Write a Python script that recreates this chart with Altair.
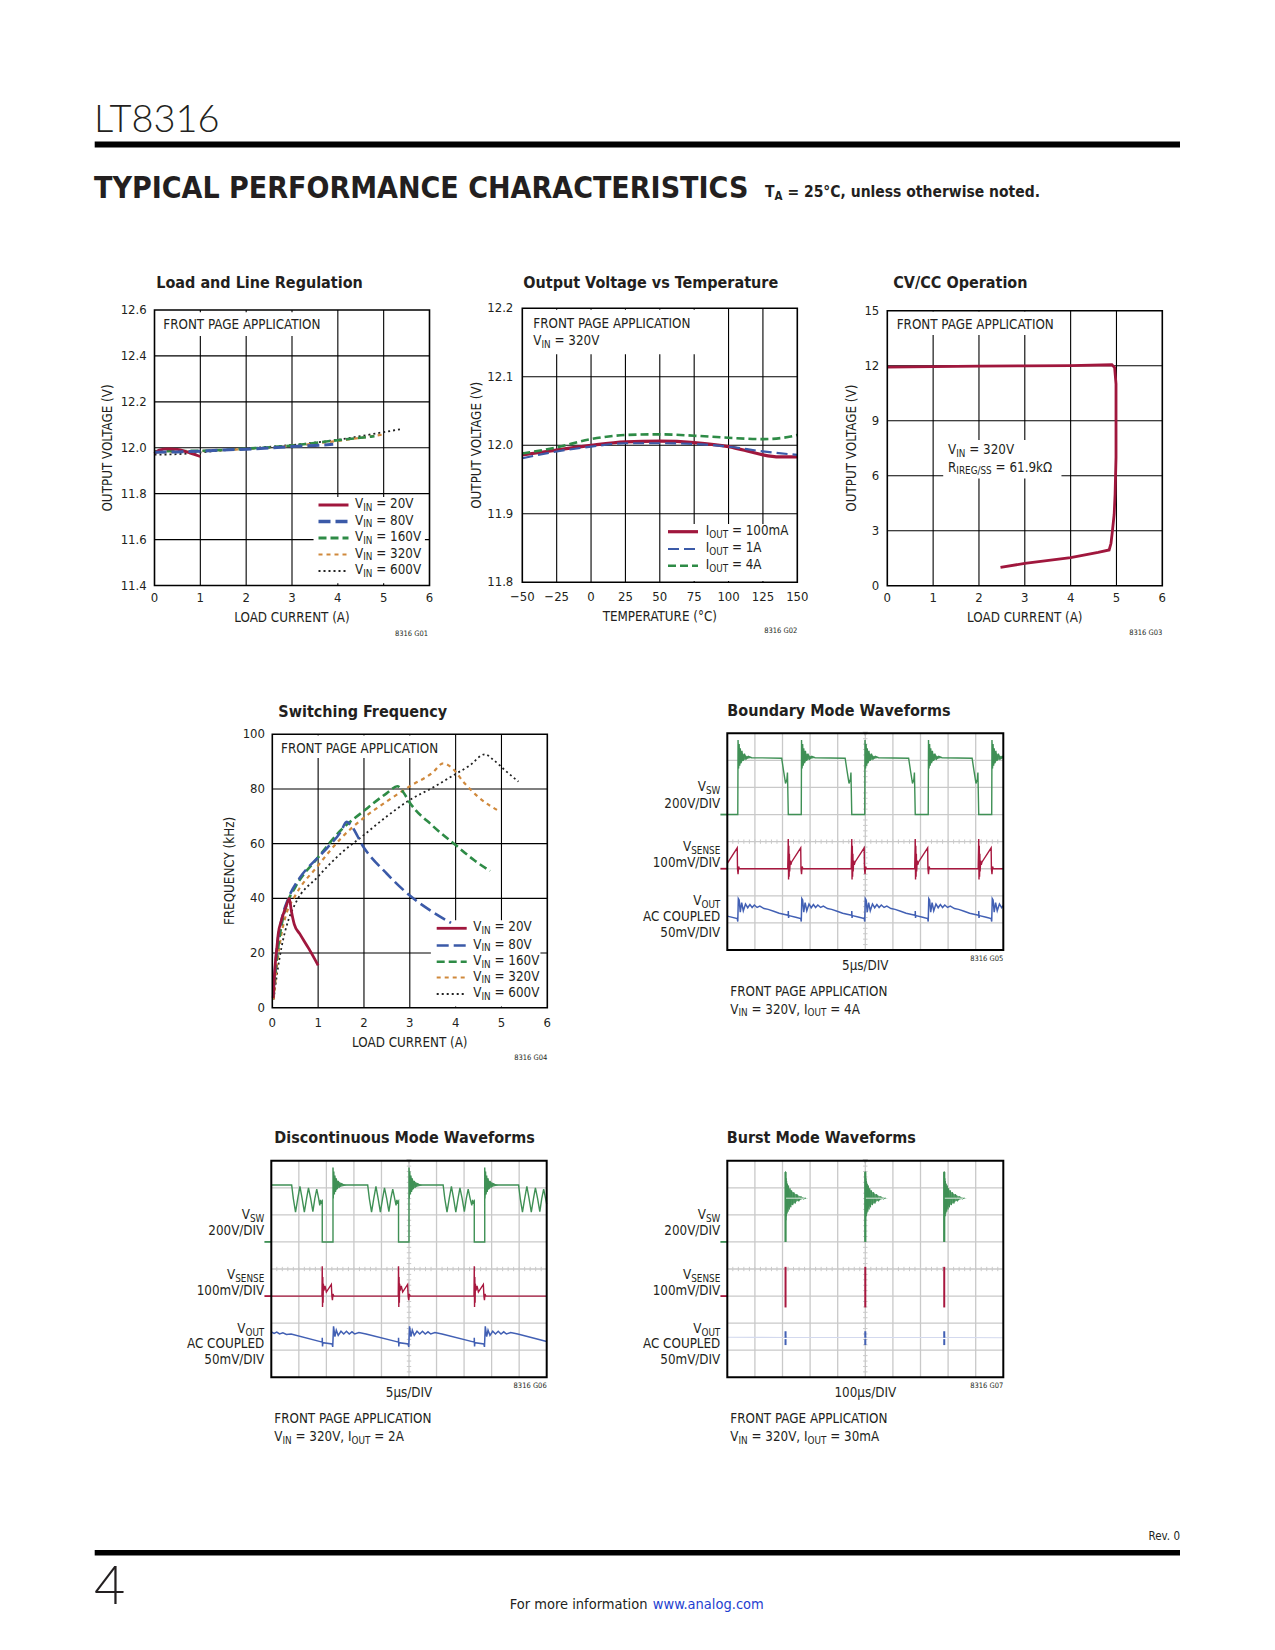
import altair as alt
import pandas as pd

OFF = 8.0
W, H = 1259, 1634
FONT = "DejaVu Sans Condensed, DejaVu Sans, sans-serif"
LIGHT = "Lato, DejaVu Sans Condensed, sans-serif"
INK = "#231f20"
RED = "#a0173d"; BLUE = "#3b5aa8"; GREEN = "#2e8b46"; ORANGE = "#d0893c"; BLACK = "#222222"
SG = "#3f9055"; SR = "#a8183f"; SB = "#4260b4"; GRID = "#c9c9c9"
FS = 13.3

# ---------------- data: Load and Line Regulation ----------------
LR_20_X = [0, 0.1, 0.3, 0.5, 0.7, 0.85, 1.0]
LR_20_Y = [11.975, 11.99, 11.995, 11.993, 11.982, 11.972, 11.962]
LR_80_X = [0, 0.5, 1, 1.5, 2, 2.5, 3, 3.5, 3.9]
LR_80_Y = [11.98, 11.982, 11.985, 11.99, 11.994, 11.999, 12.005, 12.01, 12.015]
LR_160_X = [0, 1, 2, 3, 4, 4.8]
LR_160_Y = [11.985, 11.987, 11.996, 12.01, 12.033, 12.05]
LR_320_X = [0, 1, 2, 3, 4, 5]
LR_320_Y = [11.98, 11.985, 11.995, 12.008, 12.03, 12.058]
LR_600_X = [0, 0.5, 1, 2, 3, 4, 5, 5.4]
LR_600_Y = [11.97, 11.972, 11.98, 11.997, 12.012, 12.035, 12.068, 12.082]

# ---------------- data: Output Voltage vs Temperature ----------------
OT_100M_T = [-50, -25, 0, 25, 50, 75, 100, 115, 125, 137, 150]
OT_100M_V = [11.986, 11.993, 12.0, 12.005, 12.006, 12.004, 11.998, 11.991, 11.986, 11.983, 11.983]
OT_1A_T = [-50, -25, 0, 25, 50, 75, 100, 125, 150]
OT_1A_V = [11.981, 11.991, 11.998, 12.003, 12.003, 12.002, 11.998, 11.991, 11.986]
OT_4A_T = [-50, -25, 0, 25, 50, 75, 100, 125, 140, 150]
OT_4A_V = [11.988, 11.997, 12.009, 12.015, 12.016, 12.014, 12.011, 12.009, 12.011, 12.015]

# ---------------- data: CV/CC ----------------
CV_X = [0, 1, 2, 3, 4, 4.9, 4.96, 4.99, 4.99, 4.97, 4.95, 4.91, 4.88, 4.84, 4.6, 4.0, 3.0, 2.47]
CV_Y = [11.92, 11.95, 11.98, 11.99, 12.0, 12.05, 11.9, 11.0, 7.0, 5.0, 3.9, 2.95, 2.3, 1.95, 1.82, 1.53, 1.22, 1.0]

# ---------------- data: Switching Frequency ----------------
SF_20_X = [0.02, 0.06, 0.1, 0.13, 0.2, 0.3, 0.37, 0.42, 0.48, 0.6, 0.8, 1.0]
SF_20_Y = [3.5, 15, 22, 27, 32, 37, 40, 35, 30.5, 27, 21.5, 15.5]
SF_80_X = [0.02, 0.1, 0.2, 0.35, 0.6, 1.0, 1.2, 1.5, 1.62, 1.7, 2.0, 2.5, 3.0, 3.5, 3.9]
SF_80_Y = [5, 22, 32, 40, 47.5, 55, 58.5, 64.5, 68, 67, 58.5, 49, 41, 35, 31]
SF_160_X = [0.02, 0.1, 0.2, 0.3, 0.5, 1.0, 1.5, 2.0, 2.5, 2.73, 2.85, 3.0, 3.5, 4.0, 4.4, 4.75]
SF_160_Y = [4, 18, 30, 37, 44, 55, 65, 72, 78.5, 81, 79, 75, 66.5, 59.5, 54, 50]
SF_320_X = [0.03, 0.1, 0.2, 0.3, 0.5, 1.0, 1.5, 2.0, 2.5, 3.0, 3.5, 3.73, 3.9, 4.2, 4.5, 4.97]
SF_320_Y = [3, 15, 27, 34, 41, 52, 62, 69.5, 75.5, 81, 86, 89.4, 88, 82, 77, 71.7]
SF_600_X = [0.03, 0.1, 0.2, 0.35, 0.5, 1.0, 1.5, 2.0, 2.5, 3.0, 3.5, 4.0, 4.3, 4.64, 4.8, 5.1, 5.37]
SF_600_Y = [3, 12, 22, 32, 38, 48, 56.5, 63.2, 70, 76, 80.5, 85.5, 88.5, 92.7, 91, 86.5, 82.7]

# ---------------- data: Boundary Mode (divisions) ----------------
BM_SW_X = [0.0,
           0.38, 0.39, 0.41, 0.43, 0.45, 0.47, 0.50, 0.53, 0.57, 0.62, 0.68, 0.76, 0.88, 1.97, 2.04, 2.11, 2.16, 2.18, 2.21,
           2.68, 2.69, 2.71, 2.73, 2.75, 2.77, 2.80, 2.83, 2.87, 2.92, 2.98, 3.06, 3.18, 4.27, 4.34, 4.41, 4.46, 4.48, 4.51,
           4.98, 4.99, 5.01, 5.03, 5.05, 5.07, 5.10, 5.13, 5.17, 5.22, 5.28, 5.36, 5.48, 6.57, 6.64, 6.71, 6.76, 6.78, 6.81,
           7.28, 7.29, 7.31, 7.33, 7.35, 7.37, 7.40, 7.43, 7.47, 7.52, 7.58, 7.66, 7.78, 8.87, 8.94, 9.01, 9.06, 9.08, 9.11,
           9.58, 9.59, 9.61, 9.63, 9.65, 9.67, 9.70, 9.73, 9.77, 9.82, 9.88, 9.96, 10.0]
BM_SW_Y = [5.0,
           5.0, 7.75, 6.7, 7.6, 6.8, 7.45, 6.9, 7.35, 6.98, 7.25, 7.05, 7.15, 7.1, 7.08, 6.6, 6.15, 6.3, 6.55, 5.0,
           5.0, 7.75, 6.7, 7.6, 6.8, 7.45, 6.9, 7.35, 6.98, 7.25, 7.05, 7.15, 7.1, 7.08, 6.6, 6.15, 6.3, 6.55, 5.0,
           5.0, 7.75, 6.7, 7.6, 6.8, 7.45, 6.9, 7.35, 6.98, 7.25, 7.05, 7.15, 7.1, 7.08, 6.6, 6.15, 6.3, 6.55, 5.0,
           5.0, 7.75, 6.7, 7.6, 6.8, 7.45, 6.9, 7.35, 6.98, 7.25, 7.05, 7.15, 7.1, 7.08, 6.6, 6.15, 6.3, 6.55, 5.0,
           5.0, 7.75, 6.7, 7.6, 6.8, 7.45, 6.9, 7.35, 6.98, 7.25, 7.05, 7.15, 7.1]
# ringing envelope after each rising edge
BM_RING_X = [0.385, 0.41, 0.46, 0.53, 0.63, 0.78, 0.88,
             2.685, 2.71, 2.76, 2.83, 2.93, 3.08, 3.18,
             4.985, 5.01, 5.06, 5.13, 5.23, 5.38, 5.48,
             7.285, 7.31, 7.36, 7.43, 7.53, 7.68, 7.78,
             9.585, 9.61, 9.66, 9.73, 9.83, 9.98, 10.0]
BM_RING_HI = [7.75, 7.5, 7.38, 7.28, 7.2, 7.13, 7.1,
              7.75, 7.5, 7.38, 7.28, 7.2, 7.13, 7.1,
              7.75, 7.5, 7.38, 7.28, 7.2, 7.13, 7.1,
              7.75, 7.5, 7.38, 7.28, 7.2, 7.13, 7.1,
              7.75, 7.5, 7.38, 7.28, 7.2, 7.13, 7.12]
BM_RING_LO = [6.65, 6.75, 6.85, 6.95, 7.02, 7.07, 7.1,
              6.65, 6.75, 6.85, 6.95, 7.02, 7.07, 7.1,
              6.65, 6.75, 6.85, 6.95, 7.02, 7.07, 7.1,
              6.65, 6.75, 6.85, 6.95, 7.02, 7.07, 7.1,
              6.65, 6.75, 6.85, 6.95, 7.02, 7.07, 7.08]
BM_RING_G = [0] * 7 + [1] * 7 + [2] * 7 + [3] * 7 + [4] * 7
BM_SNS_X = [0, 0.36, 0.37, 0.39, 0.41, 0.44,
            2.19, 2.21, 2.22, 2.23, 2.24, 2.25, 2.26, 2.28, 2.30, 2.33, 2.66, 2.67, 2.69, 2.71, 2.74,
            4.49, 4.51, 4.52, 4.53, 4.54, 4.55, 4.56, 4.58, 4.60, 4.63, 4.96, 4.97, 4.99, 5.01, 5.04,
            6.79, 6.81, 6.82, 6.83, 6.84, 6.85, 6.86, 6.88, 6.90, 6.93, 7.26, 7.27, 7.29, 7.31, 7.34,
            9.09, 9.11, 9.12, 9.13, 9.14, 9.15, 9.16, 9.18, 9.20, 9.23, 9.56, 9.57, 9.59, 9.61, 9.64,
            10.0]
BM_SNS_Y = [3.2, 3.77, 3.0, 2.8, 3.08, 3.0,
            3.0, 4.1, 2.6, 3.85, 2.7, 3.55, 2.9, 3.3, 3.15, 3.25, 3.77, 3.0, 2.8, 3.08, 3.0,
            3.0, 4.1, 2.6, 3.85, 2.7, 3.55, 2.9, 3.3, 3.15, 3.25, 3.77, 3.0, 2.8, 3.08, 3.0,
            3.0, 4.1, 2.6, 3.85, 2.7, 3.55, 2.9, 3.3, 3.15, 3.25, 3.77, 3.0, 2.8, 3.08, 3.0,
            3.0, 4.1, 2.6, 3.85, 2.7, 3.55, 2.9, 3.3, 3.15, 3.25, 3.77, 3.0, 2.8, 3.08, 3.0,
            3.0]
BM_OUT_X = [0, 0.36,
            0.38, 0.40, 0.43, 0.47, 0.52, 0.58, 0.66, 0.74, 0.82, 0.90, 0.98, 1.08, 1.18, 1.33, 1.48, 1.68, 1.88, 2.08, 2.21, 2.21, 2.22, 2.23, 2.48, 2.66,
            2.68, 2.70, 2.73, 2.77, 2.82, 2.88, 2.96, 3.04, 3.12, 3.20, 3.28, 3.38, 3.48, 3.63, 3.78, 3.98, 4.18, 4.38, 4.51, 4.51, 4.52, 4.53, 4.78, 4.96,
            4.98, 5.00, 5.03, 5.07, 5.12, 5.18, 5.26, 5.34, 5.42, 5.50, 5.58, 5.68, 5.78, 5.93, 6.08, 6.28, 6.48, 6.68, 6.81, 6.81, 6.82, 6.83, 7.08, 7.26,
            7.28, 7.30, 7.33, 7.37, 7.42, 7.48, 7.56, 7.64, 7.72, 7.80, 7.88, 7.98, 8.08, 8.23, 8.38, 8.58, 8.78, 8.98, 9.11, 9.11, 9.12, 9.13, 9.38, 9.56,
            9.58, 9.60, 9.63, 9.67, 9.72, 9.78, 9.86, 9.94, 10.0]
BM_OUT_Y = [1.25, 1.16,
            1.05, 1.9, 1.85, 1.4, 1.75, 1.45, 1.7, 1.56, 1.68, 1.57, 1.66, 1.57, 1.62, 1.53, 1.5, 1.43, 1.36, 1.31, 1.28, 1.44, 1.18, 1.27, 1.21, 1.16,
            1.05, 1.9, 1.85, 1.4, 1.75, 1.45, 1.7, 1.56, 1.68, 1.57, 1.66, 1.57, 1.62, 1.53, 1.5, 1.43, 1.36, 1.31, 1.28, 1.44, 1.18, 1.27, 1.21, 1.16,
            1.05, 1.9, 1.85, 1.4, 1.75, 1.45, 1.7, 1.56, 1.68, 1.57, 1.66, 1.57, 1.62, 1.53, 1.5, 1.43, 1.36, 1.31, 1.28, 1.44, 1.18, 1.27, 1.21, 1.16,
            1.05, 1.9, 1.85, 1.4, 1.75, 1.45, 1.7, 1.56, 1.68, 1.57, 1.66, 1.57, 1.62, 1.53, 1.5, 1.43, 1.36, 1.31, 1.28, 1.44, 1.18, 1.27, 1.21, 1.16,
            1.05, 1.9, 1.85, 1.4, 1.75, 1.45, 1.7, 1.56, 1.64]

# ---------------- data: Discontinuous Mode (divisions) ----------------
DM_SW_X = [0, 0.74,
           0.80, 0.88, 0.96, 1.04, 1.12, 1.20, 1.28, 1.35, 1.43, 1.51, 1.58, 1.65, 1.72, 1.76, 1.79, 1.82, 1.85, 1.85, 2.24,
           2.24, 2.25, 2.27, 2.29, 2.31, 2.33, 2.36, 2.39, 2.43, 2.48, 2.54, 2.62, 3.50,
           3.56, 3.64, 3.72, 3.80, 3.88, 3.96, 4.04, 4.11, 4.19, 4.27, 4.34, 4.41, 4.48, 4.53, 4.56, 4.59, 4.62, 4.62, 5.00,
           5.00, 5.01, 5.03, 5.05, 5.07, 5.09, 5.12, 5.15, 5.19, 5.24, 5.30, 5.38, 6.24,
           6.30, 6.38, 6.46, 6.54, 6.62, 6.70, 6.78, 6.85, 6.93, 7.01, 7.08, 7.15, 7.22, 7.28, 7.31, 7.34, 7.37, 7.37, 7.75,
           7.75, 7.76, 7.78, 7.80, 7.82, 7.84, 7.87, 7.90, 7.94, 7.99, 8.05, 8.13, 8.98,
           9.04, 9.12, 9.20, 9.28, 9.36, 9.44, 9.52, 9.59, 9.67, 9.75, 9.82, 9.89, 9.96, 10.0]
DM_SW_Y = [7.1, 7.1,
           6.6, 6.1, 6.6, 7.05, 6.6, 6.1, 6.6, 7.0, 6.6, 6.12, 6.6, 6.95, 6.6, 6.35, 6.55, 6.45, 6.5, 5.0, 5.0,
           7.75, 6.6, 7.6, 6.75, 7.45, 6.85, 7.35, 6.95, 7.25, 7.05, 7.15, 7.1, 7.1,
           6.6, 6.1, 6.6, 7.05, 6.6, 6.1, 6.6, 7.0, 6.6, 6.12, 6.6, 6.95, 6.6, 6.35, 6.55, 6.45, 6.5, 5.0, 5.0,
           7.75, 6.6, 7.6, 6.75, 7.45, 6.85, 7.35, 6.95, 7.25, 7.05, 7.15, 7.1, 7.1,
           6.6, 6.1, 6.6, 7.05, 6.6, 6.1, 6.6, 7.0, 6.6, 6.12, 6.6, 6.95, 6.6, 6.35, 6.55, 6.45, 6.5, 5.0, 5.0,
           7.75, 6.6, 7.6, 6.75, 7.45, 6.85, 7.35, 6.95, 7.25, 7.05, 7.15, 7.1, 7.1,
           6.6, 6.1, 6.6, 7.05, 6.6, 6.1, 6.6, 7.0, 6.6, 6.12, 6.6, 6.95, 6.6, 6.4]
DM_RING_X = [2.245, 2.27, 2.32, 2.39, 2.49, 2.64, 2.74,
             5.005, 5.03, 5.08, 5.15, 5.25, 5.40, 5.50,
             7.755, 7.78, 7.83, 7.90, 8.00, 8.15, 8.25]
DM_RING_HI = [7.75, 7.5, 7.38, 7.28, 7.2, 7.13, 7.1,
              7.75, 7.5, 7.38, 7.28, 7.2, 7.13, 7.1,
              7.75, 7.5, 7.38, 7.28, 7.2, 7.13, 7.1]
DM_RING_LO = [6.65, 6.75, 6.85, 6.95, 7.02, 7.07, 7.1,
              6.65, 6.75, 6.85, 6.95, 7.02, 7.07, 7.1,
              6.65, 6.75, 6.85, 6.95, 7.02, 7.07, 7.1]
DM_RING_G = [0] * 7 + [1] * 7 + [2] * 7
DM_SNS_X = [0,
            1.84, 1.85, 1.86, 1.87, 1.88, 1.89, 1.91, 1.95, 2.00, 2.18, 2.20, 2.22, 2.24, 2.27,
            4.61, 4.62, 4.63, 4.64, 4.65, 4.66, 4.68, 4.72, 4.77, 4.95, 4.97, 4.99, 5.01, 5.04,
            7.36, 7.37, 7.38, 7.39, 7.40, 7.41, 7.43, 7.47, 7.52, 7.70, 7.72, 7.74, 7.76, 7.79,
            10.0]
DM_SNS_Y = [3.0,
            3.0, 4.1, 2.6, 3.7, 2.75, 3.45, 3.2, 3.38, 3.15, 3.43, 3.0, 2.85, 3.08, 3.0,
            3.0, 4.1, 2.6, 3.7, 2.75, 3.45, 3.2, 3.38, 3.15, 3.43, 3.0, 2.85, 3.08, 3.0,
            3.0, 4.1, 2.6, 3.7, 2.75, 3.45, 3.2, 3.38, 3.15, 3.43, 3.0, 2.85, 3.08, 3.0,
            3.0]
DM_OUT_X = [0, 0.10, 0.20, 0.30, 0.42, 0.55, 0.72, 1.85, 1.85, 1.86, 1.87, 2.21,
            2.23, 2.26, 2.31, 2.36, 2.43, 2.53, 2.63, 2.73, 2.83, 2.93, 3.03, 3.18, 3.44, 4.62, 4.62, 4.63, 4.64, 4.97,
            4.99, 5.02, 5.07, 5.12, 5.19, 5.29, 5.39, 5.49, 5.59, 5.69, 5.79, 5.94, 6.20, 7.37, 7.37, 7.38, 7.39, 7.72,
            7.74, 7.77, 7.82, 7.87, 7.94, 8.04, 8.14, 8.24, 8.34, 8.44, 8.54, 8.69, 8.95, 10.0]
DM_OUT_Y = [1.68, 1.62, 1.67, 1.6, 1.64, 1.58, 1.6, 1.3, 1.46, 1.14, 1.28, 1.23,
            1.12, 1.88, 1.5, 1.74, 1.55, 1.7, 1.6, 1.7, 1.6, 1.68, 1.6, 1.65, 1.6, 1.3, 1.46, 1.14, 1.28, 1.23,
            1.12, 1.88, 1.5, 1.74, 1.55, 1.7, 1.6, 1.7, 1.6, 1.68, 1.6, 1.65, 1.6, 1.3, 1.46, 1.14, 1.28, 1.23,
            1.12, 1.88, 1.5, 1.74, 1.55, 1.7, 1.6, 1.7, 1.6, 1.68, 1.6, 1.65, 1.6, 1.32]

# ---------------- data: Burst Mode (divisions) ----------------
BU_SW_X = [2.11, 2.11, 2.12, 2.13, 2.14, 2.15, 2.165, 2.18, 2.20, 2.22, 2.245, 2.27, 2.30, 2.33, 2.37, 2.41, 2.46, 2.52, 2.59, 2.67, 2.75, 2.85,
           5.00, 5.00, 5.01, 5.02, 5.03, 5.04, 5.055, 5.07, 5.09, 5.11, 5.135, 5.16, 5.19, 5.22, 5.26, 5.30, 5.35, 5.41, 5.48, 5.56, 5.64, 5.74,
           7.86, 7.86, 7.87, 7.88, 7.89, 7.90, 7.915, 7.93, 7.95, 7.97, 7.995, 8.02, 8.05, 8.08, 8.12, 8.16, 8.21, 8.27, 8.34, 8.42, 8.50, 8.60]
BU_SW_Y = [5.0, 7.6, 5.8, 7.35, 5.95, 7.25, 6.05, 7.15, 6.12, 7.08, 6.2, 6.98, 6.28, 6.9, 6.36, 6.83, 6.42, 6.76, 6.5, 6.68, 6.58, 6.62,
           5.0, 7.6, 5.8, 7.35, 5.95, 7.25, 6.05, 7.15, 6.12, 7.08, 6.2, 6.98, 6.28, 6.9, 6.36, 6.83, 6.42, 6.76, 6.5, 6.68, 6.58, 6.62,
           5.0, 7.6, 5.8, 7.35, 5.95, 7.25, 6.05, 7.15, 6.12, 7.08, 6.2, 6.98, 6.28, 6.9, 6.36, 6.83, 6.42, 6.76, 6.5, 6.68, 6.58, 6.62]
BU_SW_G = [0] * 22 + [1] * 22 + [2] * 22
BU_RING_X = [2.11, 2.14, 2.18, 2.23, 2.31, 2.41, 2.53, 2.66, 2.81, 2.91,
             5.00, 5.03, 5.07, 5.12, 5.20, 5.30, 5.42, 5.55, 5.70, 5.80,
             7.86, 7.89, 7.93, 7.98, 8.06, 8.16, 8.28, 8.41, 8.56, 8.66]
BU_RING_HI = [7.3, 7.2, 7.08, 6.98, 6.9, 6.82, 6.74, 6.68, 6.63, 6.62,
              7.3, 7.2, 7.08, 6.98, 6.9, 6.82, 6.74, 6.68, 6.63, 6.62,
              7.3, 7.2, 7.08, 6.98, 6.9, 6.82, 6.74, 6.68, 6.63, 6.62]
BU_RING_LO = [5.95, 6.05, 6.16, 6.26, 6.35, 6.42, 6.5, 6.56, 6.6, 6.61,
              5.95, 6.05, 6.16, 6.26, 6.35, 6.42, 6.5, 6.56, 6.6, 6.61,
              5.95, 6.05, 6.16, 6.26, 6.35, 6.42, 6.5, 6.56, 6.6, 6.61]
BU_RING_G = [0] * 10 + [1] * 10 + [2] * 10
BU_MID_X = [2.13, 2.80, 5.02, 5.69, 7.88, 8.55]
BU_MID_Y = [6.615, 6.615, 6.615, 6.615, 6.615, 6.615]
BU_MID_G = [0, 0, 1, 1, 2, 2]
BU_STEM_X = [2.11, 5.00, 7.86]
BU_STEM_LO = [5.0, 5.0, 5.0]
BU_STEM_HI = [7.58, 7.58, 7.58]
BU_SNS_X = [2.11, 5.00, 7.86]
BU_SNS_LO = [2.58, 2.58, 2.58]
BU_SNS_HI = [4.08, 4.08, 4.08]
BU_OUT_X = [2.11, 2.11, 2.15, 2.11, 2.11, 5.00, 5.00, 5.04, 5.00, 5.00, 7.86, 7.86, 7.90, 7.86, 7.86]
BU_OUT_Y = [1.70, 1.50, 1.50, 1.41, 1.19, 1.70, 1.50, 1.50, 1.41, 1.19, 1.70, 1.50, 1.50, 1.41, 1.19]
BU_OUT_G = [0, 0, 0, 1, 1, 2, 2, 2, 3, 3, 4, 4, 4, 5, 5]
BU_BASE_X = [0, 2.11, 2.5, 5.0, 5.4, 7.86, 8.3, 10.0]
BU_BASE_Y = [1.48, 1.47, 1.47, 1.47, 1.47, 1.47, 1.47, 1.46]

# ---------------- helpers ----------------
# DejaVu Sans advance widths (per 1000 em); the condensed face is ~0.9 of these
DW = {' ': 318, '=': 838, ',': 318, '.': 318, '/': 337, '(': 390, ')': 390, '°': 500, '-': 361, '−': 838,
      'µ': 636, 'Ω': 764,
      'A': 684, 'B': 686, 'C': 698, 'D': 770, 'E': 632, 'F': 575, 'G': 775, 'H': 752, 'I': 295, 'J': 295,
      'K': 656, 'L': 557, 'M': 863, 'N': 748, 'O': 787, 'P': 603, 'Q': 787, 'R': 695, 'S': 635, 'T': 611,
      'U': 732, 'V': 684, 'W': 989, 'X': 685, 'Y': 611, 'Z': 685,
      'a': 613, 'b': 635, 'c': 550, 'd': 635, 'e': 615, 'f': 352, 'g': 635, 'h': 634, 'i': 278, 'j': 278,
      'k': 579, 'l': 278, 'm': 974, 'n': 634, 'o': 612, 'p': 635, 'q': 635, 'r': 411, 's': 521, 't': 392,
      'u': 634, 'v': 592, 'w': 818, 'x': 592, 'y': 592, 'z': 525}
COND = 0.9


def tw(s, size, bold=False):
    f = COND * (1.12 if bold else 1.0)
    return sum(DW.get(c, 636) for c in s) / 1000.0 * size * f


TEXT = []


def put(x, y, t, size, align="left", weight="normal", color=INK, angle=0, font=FONT):
    TEXT.append(dict(x=x - OFF, y=y - OFF, t=t, s=size, al=align, w=weight, c=color, a=angle, f=font))


def rich(x, y, pieces, size, align="left", weight="normal", color=INK):
    bold = weight == "bold"

    def psize(sub):
        return size * 0.74 if sub else size
    total = sum(tw(p, psize(sub), bold) for p, sub in pieces)
    if align == "right":
        x -= total
    elif align == "center":
        x -= total / 2.0
    for p, sub in pieces:
        s = psize(sub)
        lead = len(p) - len(p.lstrip(" "))
        put(x + tw(" " * lead, s, bold), y + (0.3 * size if sub else 0), p.strip(" "), s, "left", weight, color)
        x += tw(p, s, bold)


def sc(dom, a, b):
    return alt.Scale(domain=dom, range=[a - OFF, b - OFF], nice=False, zero=False)


def line_layer(xs, ys, X, Y, color, width, dash=None, interp="linear", seg=None, opacity=1.0):
    df = pd.DataFrame({"x": X, "y": Y, "i": list(range(len(X)))})
    kw = dict(color=color, strokeWidth=width, interpolate=interp, opacity=opacity)
    if dash:
        kw["strokeDash"] = dash
    enc = dict(x=alt.X("x:Q", scale=xs, axis=None), y=alt.Y("y:Q", scale=ys, axis=None), order="i:Q")
    if seg is not None:
        df["g"] = seg
        enc["detail"] = "g:N"
    return alt.Chart(df).mark_line(**kw).encode(**enc)


def band_layer(X, HI, LO, G, color, opacity=1.0):
    def f(xs, ys):
        df = pd.DataFrame({"x": X, "hi": HI, "lo": LO, "g": G})
        return alt.Chart(df).mark_area(color=color, opacity=opacity, interpolate="monotone").encode(
            x=alt.X("x:Q", scale=xs, axis=None), y=alt.Y("hi:Q", scale=ys, axis=None), y2="lo:Q", detail="g:N")
    return f


def vrule_layer(X, LO, HI, color, width):
    def f(xs, ys):
        df = pd.DataFrame({"x": X, "lo": LO, "hi": HI})
        return alt.Chart(df).mark_rule(color=color, strokeWidth=width).encode(
            x=alt.X("x:Q", scale=xs, axis=None), y=alt.Y("lo:Q", scale=ys, axis=None), y2="hi:Q")
    return f


ONE = pd.DataFrame({"k": [0]})


def sample(xa, xb, y, color, width, dash=None):
    kw = dict(color=color, strokeWidth=width)
    if dash:
        kw["strokeDash"] = dash
    return alt.Chart(ONE).mark_rule(**kw).encode(
        x=alt.value(xa - OFF), x2=alt.value(xb - OFF), y=alt.value(y - OFF))


def xy_panel(box, xdom, ydom, xgrid, ygrid, knock, series, xt, xtl, yt, ytl, xlab_y, ylab_x):
    x0, x1, y0, y1 = box
    xs = sc(xdom, x0, x1)
    ys = sc(ydom, y1, y0)
    L = []
    gv = pd.DataFrame({"v": xgrid, "a": ydom[0], "b": ydom[1]})
    L.append(alt.Chart(gv).mark_rule(color="black", strokeWidth=1.1).encode(
        x=alt.X("v:Q", scale=xs, axis=None), y=alt.Y("a:Q", scale=ys, axis=None), y2="b:Q"))
    gh = pd.DataFrame({"v": ygrid, "a": xdom[0], "b": xdom[1]})
    L.append(alt.Chart(gh).mark_rule(color="black", strokeWidth=1.1).encode(
        y=alt.Y("v:Q", scale=ys, axis=None), x=alt.X("a:Q", scale=xs, axis=None), x2="b:Q"))
    kb = pd.DataFrame(knock, columns=["xa", "xb", "ya", "yb"])
    L.append(alt.Chart(kb).mark_rect(color="white").encode(
        x=alt.X("xa:Q", scale=xs, axis=None), x2="xb:Q", y=alt.Y("ya:Q", scale=ys, axis=None), y2="yb:Q"))
    for s in series:
        L.append(line_layer(xs, ys, *s))
    fr = pd.DataFrame({"xa": [xdom[0]], "xb": [xdom[1]], "ya": [ydom[0]], "yb": [ydom[1]]})
    L.append(alt.Chart(fr).mark_rect(fillOpacity=0, stroke="black", strokeWidth=1.6).encode(
        x=alt.X("xa:Q", scale=xs, axis=None), x2="xb:Q", y=alt.Y("ya:Q", scale=ys, axis=None), y2="yb:Q"))
    tx = pd.DataFrame({"v": xt, "t": xtl})
    L.append(alt.Chart(tx).mark_text(font=FONT, fontSize=13, color=INK, align="center", baseline="middle").encode(
        x=alt.X("v:Q", scale=xs, axis=None), y=alt.value(xlab_y - OFF), text="t:N"))
    ty = pd.DataFrame({"v": yt, "t": ytl})
    L.append(alt.Chart(ty).mark_text(font=FONT, fontSize=13, color=INK, align="right", baseline="middle").encode(
        y=alt.Y("v:Q", scale=ys, axis=None), x=alt.value(ylab_x - OFF), text="t:N"))
    return alt.layer(*L)


def scope_panel(box, traces, extra):
    x0, x1, y0, y1 = box
    xs = sc([0, 10], x0, x1)
    ys = sc([0, 8], y1, y0)
    L = []
    gv = pd.DataFrame({"v": [1, 2, 3, 4, 5, 6, 7, 8, 9], "a": 0, "b": 8})
    L.append(alt.Chart(gv).mark_rule(color=GRID, strokeWidth=1.3).encode(
        x=alt.X("v:Q", scale=xs, axis=None), y=alt.Y("a:Q", scale=ys, axis=None), y2="b:Q"))
    gh = pd.DataFrame({"v": [1, 2, 3, 4, 5, 6, 7], "a": 0, "b": 10})
    L.append(alt.Chart(gh).mark_rule(color=GRID, strokeWidth=1.3).encode(
        y=alt.Y("v:Q", scale=ys, axis=None), x=alt.X("a:Q", scale=xs, axis=None), x2="b:Q"))
    mx = pd.DataFrame({"v": [k / 5.0 for k in range(1, 50)], "a": 3.92, "b": 4.08})
    L.append(alt.Chart(mx).mark_rule(color=GRID, strokeWidth=1.0).encode(
        x=alt.X("v:Q", scale=xs, axis=None), y=alt.Y("a:Q", scale=ys, axis=None), y2="b:Q"))
    my = pd.DataFrame({"v": [k / 5.0 for k in range(1, 40)], "a": 4.92, "b": 5.08})
    L.append(alt.Chart(my).mark_rule(color=GRID, strokeWidth=1.0).encode(
        y=alt.Y("v:Q", scale=ys, axis=None), x=alt.X("a:Q", scale=xs, axis=None), x2="b:Q"))
    gm = pd.DataFrame({"v": [5.0, 3.0], "a": -0.25, "b": 0.0, "c": [SG, SR]})
    L.append(alt.Chart(gm).mark_rule(strokeWidth=1.8).encode(
        y=alt.Y("v:Q", scale=ys, axis=None), x=alt.X("a:Q", scale=xs, axis=None), x2="b:Q",
        color=alt.Color("c:N", scale=None, legend=None)))
    for e in extra:
        L.append(e(xs, ys))
    for t in traces:
        L.append(line_layer(xs, ys, *t))
    trg = pd.DataFrame({"x": [5.0], "y": [7.97]})
    L.append(alt.Chart(trg).mark_point(shape="triangle-down", filled=True, color="#bdbdbd", size=30, opacity=1).encode(
        x=alt.X("x:Q", scale=xs, axis=None), y=alt.Y("y:Q", scale=ys, axis=None)))
    fr = pd.DataFrame({"xa": [0], "xb": [10], "ya": [0], "yb": [8]})
    L.append(alt.Chart(fr).mark_rect(fillOpacity=0, stroke="black", strokeWidth=2).encode(
        x=alt.X("xa:Q", scale=xs, axis=None), x2="xb:Q", y=alt.Y("ya:Q", scale=ys, axis=None), y2="yb:Q"))
    return alt.layer(*L)


def scope_labels(box, gid, tdiv, cond):
    x0, x1, y0, y1 = box
    rx = x0 - 7
    rich(rx, y0 + 54, [("V", False), ("SW", True)], FS, "right")
    put(rx, y0 + 70.5, "200V/DIV", FS, "right")
    rich(rx, y0 + 114, [("V", False), ("SENSE", True)], FS, "right")
    put(rx, y0 + 130, "100mV/DIV", FS, "right")
    rich(rx, y0 + 168, [("V", False), ("OUT", True)], FS, "right")
    put(rx, y0 + 183.5, "AC COUPLED", FS, "right")
    put(rx, y0 + 199.5, "50mV/DIV", FS, "right")
    put(x1, y1 + 8.5, gid, 7.5, "right")
    put((x0 + x1) / 2.0, y1 + 16, tdiv, FS, "center")
    put(x0 + 3, y1 + 42, "FRONT PAGE APPLICATION", FS)
    rich(x0 + 3, y1 + 59.5, cond, FS)


def vin(v):
    return [("V", False), ("IN", True), (" = " + v, False)]


def iout(v):
    return [("I", False), ("OUT", True), (" = " + v, False)]


panels = []

# ---------------- Panel 1: Load and Line Regulation ----------------
B1 = (154.5, 429.5, 310.0, 585.5)
panels.append(xy_panel(
    B1, [0, 6], [11.4, 12.6], [1, 2, 3, 4, 5], [11.6, 11.8, 12.0, 12.2, 12.4],
    [[0.01, 3.75, 12.487, 12.59], [3.47, 5.9, 11.41, 11.785]],
    [(LR_600_X, LR_600_Y, BLACK, 1.8, [2, 3], "monotone"),
     (LR_320_X, LR_320_Y, ORANGE, 2.2, [4, 4], "monotone"),
     (LR_160_X, LR_160_Y, GREEN, 2.6, [8, 4], "monotone"),
     (LR_20_X, LR_20_Y, RED, 2.8, None, "monotone"),
     (LR_80_X, LR_80_Y, BLUE, 3.0, [12, 5], "monotone")],
    [0, 1, 2, 3, 4, 5, 6], ["0", "1", "2", "3", "4", "5", "6"],
    [11.4, 11.6, 11.8, 12.0, 12.2, 12.4, 12.6], ["11.4", "11.6", "11.8", "12.0", "12.2", "12.4", "12.6"],
    598.3, 146.7))
LEG1 = [(505.0, RED, 3, None, "20V"), (521.5, BLUE, 3.5, [12, 5], "80V"), (538.0, GREEN, 3, [8, 4], "160V"),
        (554.5, ORANGE, 2.2, [4, 4], "320V"), (571.0, BLACK, 2, [2, 3], "600V")]
for yy, c, wdt, d, lab in LEG1:
    panels.append(sample(318.5, 348.5, yy, c, wdt, d))
    rich(355.0, yy - 1, vin(lab), FS)
put(156.3, 283.3, "Load and Line Regulation", 16, weight="bold")
put(163.3, 325.0, "FRONT PAGE APPLICATION", FS)
put(108.0, 448.0, "OUTPUT VOLTAGE (V)", FS, "center", angle=270)
put(292.0, 618.0, "LOAD CURRENT (A)", FS, "center")
put(428.0, 634.0, "8316 G01", 7.5, "right")

# ---------------- Panel 2: Output Voltage vs Temperature ----------------
B2 = (522.3, 797.3, 308.3, 582.3)
panels.append(xy_panel(
    B2, [-50, 150], [11.8, 12.2], [-25, 0, 25, 50, 75, 100, 125], [11.9, 12.0, 12.1],
    [[-49.5, 79, 12.133, 12.198], [53, 149.5, 11.802, 11.885]],
    [(OT_100M_T, OT_100M_V, RED, 3.2, None, "monotone"),
     (OT_1A_T, OT_1A_V, BLUE, 2.2, [11, 5], "monotone"),
     (OT_4A_T, OT_4A_V, GREEN, 2.6, [8, 4], "monotone")],
    [-50, -25, 0, 25, 50, 75, 100, 125, 150], ["−50", "−25", "0", "25", "50", "75", "100", "125", "150"],
    [11.8, 11.9, 12.0, 12.1, 12.2], ["11.8", "11.9", "12.0", "12.1", "12.2"],
    596.7, 513.3))
LEG2 = [(531.7, RED, 3.2, None, "100mA"), (549.0, BLUE, 2.2, [11, 5], "1A"), (565.7, GREEN, 2.6, [8, 4], "4A")]
for yy, c, wdt, d, lab in LEG2:
    panels.append(sample(668.0, 698.0, yy, c, wdt, d))
    rich(705.7, yy - 1, iout(lab), FS)
put(523.3, 283.3, "Output Voltage vs Temperature", 16, weight="bold")
put(533.3, 324.0, "FRONT PAGE APPLICATION", FS)
rich(533.3, 341.2, vin("320V"), FS)
put(476.7, 445.3, "OUTPUT VOLTAGE (V)", FS, "center", angle=270)
put(659.8, 616.7, "TEMPERATURE (°C)", FS, "center")
put(797.3, 631.0, "8316 G02", 7.5, "right")

# ---------------- Panel 3: CV/CC Operation ----------------
B3 = (887.3, 1162.3, 310.7, 585.7)
panels.append(xy_panel(
    B3, [0, 6], [0, 15], [1, 2, 3, 4, 5], [3, 6, 9, 12],
    [[0.01, 3.75, 13.67, 14.95], [1.22, 3.8, 5.85, 7.95]],
    [(CV_X, CV_Y, RED, 2.8, None, "linear")],
    [0, 1, 2, 3, 4, 5, 6], ["0", "1", "2", "3", "4", "5", "6"],
    [0, 3, 6, 9, 12, 15], ["0", "3", "6", "9", "12", "15"],
    598.3, 879.3))
put(893.3, 283.3, "CV/CC Operation", 16, weight="bold")
put(896.7, 325.0, "FRONT PAGE APPLICATION", FS)
rich(948.0, 450.0, vin("320V"), FS)
rich(948.0, 467.5, [("R", False), ("IREG/SS", True), (" = 61.9kΩ", False)], FS)
put(851.7, 448.2, "OUTPUT VOLTAGE (V)", FS, "center", angle=270)
put(1024.8, 618.3, "LOAD CURRENT (A)", FS, "center")
put(1162.3, 633.3, "8316 G03", 7.5, "right")

# ---------------- Panel 4: Switching Frequency ----------------
B4 = (272.3, 547.3, 734.3, 1007.7)
panels.append(xy_panel(
    B4, [0, 6], [0, 100], [1, 2, 3, 4, 5], [20, 40, 60, 80],
    [[0.01, 3.75, 91.3, 99.6], [3.46, 5.85, 0.4, 32.0]],
    [(SF_600_X, SF_600_Y, BLACK, 1.8, [2, 3], "monotone"),
     (SF_320_X, SF_320_Y, ORANGE, 2.2, [4, 4], "monotone"),
     (SF_160_X, SF_160_Y, GREEN, 2.6, [8, 4], "monotone"),
     (SF_80_X, SF_80_Y, BLUE, 2.6, [12, 5], "monotone"),
     (SF_20_X, SF_20_Y, RED, 2.8, None, "monotone")],
    [0, 1, 2, 3, 4, 5, 6], ["0", "1", "2", "3", "4", "5", "6"],
    [0, 20, 40, 60, 80, 100], ["0", "20", "40", "60", "80", "100"],
    1023.3, 265.0))
LEG4 = [(928.3, RED, 2.8, None, "20V"), (945.5, BLUE, 2.6, [12, 5], "80V"), (961.7, GREEN, 2.6, [8, 4], "160V"),
        (977.5, ORANGE, 2.2, [4, 4], "320V"), (994.0, BLACK, 2, [2, 3], "600V")]
for yy, c, wdt, d, lab in LEG4:
    panels.append(sample(436.7, 466.7, yy, c, wdt, d))
    rich(473.3, yy - 1, vin(lab), FS)
put(278.3, 711.7, "Switching Frequency", 16, weight="bold")
put(281.0, 749.3, "FRONT PAGE APPLICATION", FS)
put(230.0, 871.0, "FREQUENCY (kHz)", FS, "center", angle=270)
put(409.8, 1043.3, "LOAD CURRENT (A)", FS, "center")
put(547.3, 1057.7, "8316 G04", 7.5, "right")

# ---------------- Panel 5: Boundary Mode Waveforms ----------------
B5 = (727.3, 1003.3, 733.3, 950.0)
panels.append(scope_panel(B5, [
    (BM_SW_X, BM_SW_Y, SG, 1.4),
    (BM_SNS_X, BM_SNS_Y, SR, 1.4),
    (BM_OUT_X, BM_OUT_Y, SB, 1.5)],
    [band_layer(BM_RING_X, BM_RING_HI, BM_RING_LO, BM_RING_G, SG, 0.9)]))
put(727.3, 710.7, "Boundary Mode Waveforms", 16, weight="bold")
scope_labels(B5, "8316 G05", "5µs/DIV", vin("320V, ") + iout("4A"))

# ---------------- Panel 6: Discontinuous Mode Waveforms ----------------
B6 = (271.3, 546.7, 1160.7, 1377.3)
panels.append(scope_panel(B6, [
    (DM_SW_X, DM_SW_Y, SG, 1.4),
    (DM_SNS_X, DM_SNS_Y, SR, 1.4),
    (DM_OUT_X, DM_OUT_Y, SB, 1.5)],
    [band_layer(DM_RING_X, DM_RING_HI, DM_RING_LO, DM_RING_G, SG, 0.9)]))
put(274.3, 1137.7, "Discontinuous Mode Waveforms", 16, weight="bold")
scope_labels(B6, "8316 G06", "5µs/DIV", vin("320V, ") + iout("2A"))

# ---------------- Panel 7: Burst Mode Waveforms ----------------
B7 = (727.3, 1003.3, 1160.7, 1377.3)
panels.append(scope_panel(B7, [
    (BU_BASE_X, BU_BASE_Y, "#d3d9ee", 1.2),
    (BU_SW_X, BU_SW_Y, SG, 1.0, None, "linear", BU_SW_G),
    (BU_MID_X, BU_MID_Y, "white", 0.8, None, "linear", BU_MID_G),
    (BU_OUT_X, BU_OUT_Y, SB, 2.0, None, "linear", BU_OUT_G)],
    [band_layer(BU_RING_X, BU_RING_HI, BU_RING_LO, BU_RING_G, SG, 0.85),
     vrule_layer(BU_STEM_X, BU_STEM_LO, BU_STEM_HI, SG, 2.2),
     vrule_layer(BU_SNS_X, BU_SNS_LO, BU_SNS_HI, SR, 2.0)]))
put(726.7, 1137.7, "Burst Mode Waveforms", 16, weight="bold")
scope_labels(B7, "8316 G07", "100µs/DIV", vin("320V, ") + iout("30mA"))

# ---------------- header / footer ----------------
put(94.0, 121.0, "LT8316", 38, weight="300", font=LIGHT)
panels.append(alt.Chart(ONE).mark_rect(color="black").encode(
    x=alt.value(94.7 - OFF), x2=alt.value(1180 - OFF), y=alt.value(141.5 - OFF), y2=alt.value(147.5 - OFF)))
put(94.0, 189.0, "TYPICAL PERFORMANCE CHARACTERISTICS", 30, weight="bold")
rich(765.0, 192.0, [("T", False), ("A", True), (" = 25°C, unless otherwise noted.", False)], 15.5, weight="bold")
put(1180.0, 1537.0, "Rev. 0", 11.5, "right")
panels.append(alt.Chart(ONE).mark_rect(color="black").encode(
    x=alt.value(94.7 - OFF), x2=alt.value(1180 - OFF), y=alt.value(1550 - OFF), y2=alt.value(1555.5 - OFF)))
put(94.0, 1588.0, "4", 54, weight="300", font=LIGHT)
FOOT_A = "For more information "
FOOT_B = "www.analog.com"
x_more = 637.5 - (tw(FOOT_A, 14.5) + tw(FOOT_B, 14.5)) / 2.0
put(x_more, 1605.0, FOOT_A.strip(), 14.5)
put(x_more + tw(FOOT_A, 14.5), 1605.0, FOOT_B, 14.5, color="#1f3fd0")

# ---------------- text layers ----------------
tdf = pd.DataFrame(TEXT)
tlayers = []
for (al, w, a, f), g in tdf.groupby(["al", "w", "a", "f"]):
    kw = dict(font=f, align=al, baseline="middle", fontWeight=(300 if w == "300" else w))
    if a:
        kw["angle"] = a
    tlayers.append(alt.Chart(g.reset_index(drop=True)).mark_text(**kw).encode(
        x=alt.X("x:Q", scale=None, axis=None), y=alt.Y("y:Q", scale=None, axis=None), text="t:N",
        size=alt.Size("s:Q", scale=None, legend=None), color=alt.Color("c:N", scale=None, legend=None)))

chart = alt.layer(*panels, *tlayers).resolve_scale(x="independent", y="independent").properties(
    width=W, height=H, padding=0, autosize=alt.AutoSizeParams(type="none"), background="white"
).configure_view(stroke=None)

chart.save("out.html", embed_options={"renderer": "svg", "actions": False})
